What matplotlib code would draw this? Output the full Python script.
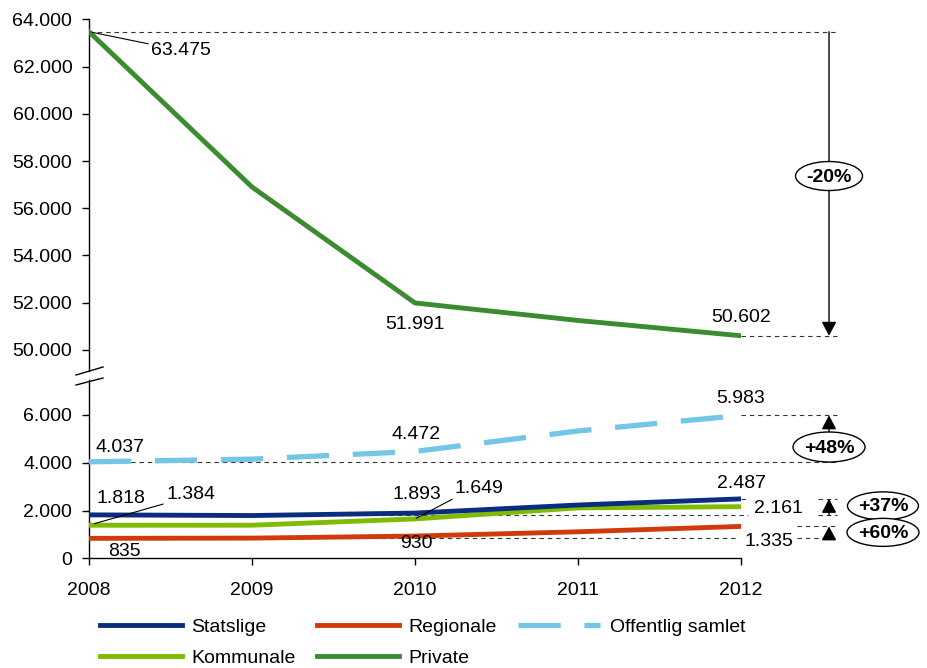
import matplotlib
matplotlib.use('Agg')
import matplotlib.pyplot as plt
import matplotlib.transforms as mtransforms
from matplotlib.patches import Ellipse
from matplotlib.lines import Line2D
from matplotlib.ticker import FuncFormatter, FixedLocator

plt.rcParams['font.family'] = ['Liberation Sans', 'DejaVu Sans']
FS = 14

# ---------------- data ----------------
years = [2008, 2009, 2010, 2011, 2012]
statslige = [1818, 1790, 1893, 2230, 2487]
kommunale = [1384, 1385, 1649, 2110, 2161]
regionale = [835, 845, 930, 1110, 1335]
offentlig = [4037, 4150, 4472, 5330, 5983]
private = [63475, 56900, 51991, 51250, 50602]

upper_ticks = [50000, 52000, 54000, 56000, 58000, 60000, 62000, 64000]
lower_ticks = [0, 2000, 4000, 6000]
year_labels = ['2008', '2009', '2010', '2011', '2012']

badges = ['-20%', '+48%', '+37%', '+60%']

col_stat = '#0B2D7D'
col_komm = '#80BB04'
col_reg = '#D23A0B'
col_off = '#74C6E6'
col_priv = '#3B8B30'

W, H = 928, 668
def fx(p): return p / W
def fy(p): return 1 - p / H

fig = plt.figure(figsize=(W / 100, H / 100), dpi=100)
ax_top = fig.add_axes([fx(89), fy(371), fx(741) - fx(89), fy(19.3) - fy(371)])
ax_bot = fig.add_axes([fx(89), fy(558.3), fx(741) - fx(89), fy(380) - fy(558.3)])

fmt = FuncFormatter(lambda v, p: f"{int(round(v)):,}".replace(',', '.'))
def lab(v): return f"{v:,}".replace(',', '.')

LW = 3.5
l_priv, = ax_top.plot(years, private, color=col_priv, lw=LW, solid_joinstyle='round', zorder=3)
l_off, = ax_bot.plot(years, offentlig, color=col_off, lw=LW + 0.3, dashes=(8, 4.5), zorder=3)
l_stat, = ax_bot.plot(years, statslige, color=col_stat, lw=LW, solid_joinstyle='round', zorder=4)
l_komm, = ax_bot.plot(years, kommunale, color=col_komm, lw=LW, solid_joinstyle='round', zorder=3)
l_reg, = ax_bot.plot(years, regionale, color=col_reg, lw=LW, solid_joinstyle='round', zorder=3)

# axes styling
for ax in (ax_top, ax_bot):
    ax.set_xlim(2008, 2012)
    ax.spines['top'].set_visible(False)
    ax.spines['right'].set_visible(False)
    ax.spines['left'].set_linewidth(1.0)
    ax.spines['bottom'].set_linewidth(1.0)
    ax.yaxis.set_major_formatter(fmt)
    ax.tick_params(axis='y', direction='out', length=5, width=1.0, pad=7, labelsize=FS)
    ax.set_facecolor('none')

ax_top.set_ylim(49110, 64000)
ax_top.yaxis.set_major_locator(FixedLocator(upper_ticks))
ax_top.spines['bottom'].set_visible(False)
ax_top.tick_params(axis='x', bottom=False, labelbottom=False)

ax_bot.set_ylim(0, 7463)
ax_bot.yaxis.set_major_locator(FixedLocator(lower_ticks))
ax_bot.set_xticks(years)
ax_bot.set_xticklabels(year_labels)
ax_bot.tick_params(axis='x', direction='out', length=5, width=1.0, pad=12, labelsize=FS)

# axis break marks
for (y1, y2) in [(375, 367), (385, 378)]:
    fig.add_artist(Line2D([fx(76), fx(103)], [fy(y1), fy(y2)], color='black', lw=1.0))

# dashed reference lines
dash_kw = dict(color='#333333', lw=0.8, dashes=(4, 3.5), clip_on=False, zorder=2)
xr = 2012.59
ax_top.plot([2008, xr], [private[0]] * 2, **dash_kw)
ax_top.plot([2012, xr], [private[-1]] * 2, **dash_kw)
ax_bot.plot([2008, xr], [offentlig[0]] * 2, **dash_kw)
ax_bot.plot([2012, xr], [offentlig[-1]] * 2, **dash_kw)
ax_bot.plot([2008, 2012.043], [statslige[0]] * 2, **dash_kw)
ax_bot.plot([2012.472, xr], [statslige[0]] * 2, **dash_kw)
ax_bot.plot([2012, 2012.043], [statslige[-1]] * 2, **dash_kw)
ax_bot.plot([2012.472, xr], [statslige[-1]] * 2, **dash_kw)
ax_bot.plot([2008, 2011.982], [regionale[0]] * 2, **dash_kw)
ax_bot.plot([2012.343, xr], [regionale[0]] * 2, **dash_kw)
ax_bot.plot([2012.343, xr], [regionale[-1]] * 2, **dash_kw)

# arrows
xa = 2012.54
def arrow(ax, y0, y1):
    ax.annotate('', xy=(xa, y1), xytext=(xa, y0),
                arrowprops=dict(arrowstyle='-|>,head_length=0.85,head_width=0.45',
                                mutation_scale=10, lw=1.0, color='black',
                                shrinkA=0, shrinkB=0),
                annotation_clip=False, zorder=4)
arrow(ax_top, private[0], private[-1])
arrow(ax_bot, offentlig[0], offentlig[-1])
arrow(ax_bot, statslige[0], statslige[-1])
arrow(ax_bot, regionale[0], regionale[-1])

# badges
def badge(ax, x, y, text, dy=0, w=0.69, h=0.29):
    tr = fig.dpi_scale_trans + mtransforms.ScaledTranslation(x, y, ax.transData)
    e = Ellipse((0, dy / 100), w, h, transform=tr, facecolor='white',
                edgecolor='black', lw=1.0, clip_on=False, zorder=6)
    ax.add_artist(e)
    ax.annotate(text, xy=(x, y), xytext=(0, dy - 1), textcoords='offset pixels',
                ha='center', va='center', fontsize=FS, fontweight='bold',
                annotation_clip=False, zorder=7)

badge(ax_top, xa, (private[0] + private[-1]) / 2, badges[0], dy=7.7, w=0.67)
badge(ax_bot, xa, (offentlig[0] + offentlig[-1]) / 2, badges[1], dy=-8.4, w=0.72, h=0.30)
badge(ax_bot, 2012.871, (statslige[0] + statslige[-1]) / 2, badges[2], dy=1, w=0.71, h=0.28)
badge(ax_bot, 2012.871, (regionale[0] + regionale[-1]) / 2, badges[3], dy=0, w=0.72, h=0.28)

# value labels
def vlabel(ax, x, y, dx, dy, ha='center', leader=None):
    kw = dict(xy=(x, y), xytext=(dx, dy), textcoords='offset pixels', ha=ha,
              va='center', fontsize=FS, annotation_clip=False, zorder=8)
    if leader is not None:
        kw['arrowprops'] = dict(arrowstyle='-', lw=0.8, color='black',
                                shrinkA=0, shrinkB=leader[1], relpos=leader[0])
    ax.annotate(lab(y), **kw)

vlabel(ax_top, years[0], private[0], 62, -18.6, ha='left', leader=((0, 0.85), 2))
vlabel(ax_top, years[2], private[2], 0, -22)
vlabel(ax_top, years[4], private[4], 0, 18.5)

vlabel(ax_bot, years[0], offentlig[0], 7, 14.4, ha='left')
vlabel(ax_bot, years[2], offentlig[2], 1, 17.2)
vlabel(ax_bot, years[4], offentlig[4], 0, 16.7)

vlabel(ax_bot, years[0], statslige[0], 8, 16.2, ha='left')
vlabel(ax_bot, years[2], statslige[2], 2, 18.4)
vlabel(ax_bot, years[4], statslige[4], 0, 15.6)

vlabel(ax_bot, years[0], kommunale[0], 77, 30.5, ha='left', leader=((0, 0), 4))
vlabel(ax_bot, years[2], kommunale[2], 40, 30.9, ha='left', leader=((0.05, 0), 1))
vlabel(ax_bot, years[4], kommunale[4], 13, -2.3, ha='left')

vlabel(ax_bot, years[0], regionale[0], 19, -12.9, ha='left')
vlabel(ax_bot, years[2], regionale[2], 1, -7.9)
vlabel(ax_bot, years[4], regionale[4], 3, -14.9, ha='left')

# legend
handles = [l_stat, l_komm, l_reg, l_priv, l_off]
labels = ['Statslige', 'Kommunale', 'Regionale', 'Private', 'Offentlig samlet']
fig.legend(handles, labels, ncol=3, loc='upper left', bbox_to_anchor=(fx(100), fy(618)),
           frameon=False, borderpad=0, borderaxespad=0, fontsize=FS,
           handlelength=4.2, handletextpad=0.5, columnspacing=1.1, labelspacing=0.7)

fig.savefig('out.png', dpi=100)
